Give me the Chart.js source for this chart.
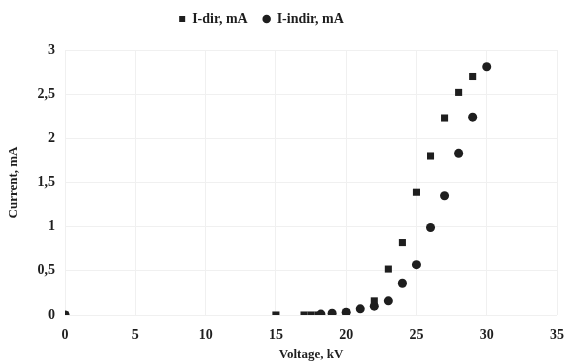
<!DOCTYPE html>
<html>
<head>
<meta charset="utf-8">
<script src="https://cdn.jsdelivr.net/npm/chart.js@4"></script>
<style>
  html, body { margin: 0; padding: 0; background: #fff; }
  #wrap { width: 565px; height: 363px; }
</style>
</head>
<body>
<div id="wrap"><canvas id="chart" width="565" height="363"></canvas></div>
<script>
/* data */
const dirVoltage = [0, 15, 17, 17.5, 18, 20, 22, 23, 24, 25, 26, 27, 28, 29];
const dirCurrent = [0, 0, 0, 0, 0, 0.03, 0.16, 0.52, 0.82, 1.39, 1.8, 2.23, 2.52, 2.7];
const indirVoltage = [0, 18.2, 19, 20, 21, 22, 23, 24, 25, 26, 27, 28, 29, 30];
const indirCurrent = [0, 0.01, 0.02, 0.03, 0.07, 0.1, 0.16, 0.36, 0.57, 0.99, 1.35, 1.83, 2.24, 2.81];
const seriesNames = ["I-dir, mA", "I-indir, mA"];
const xTicks = [0, 5, 10, 15, 20, 25, 30, 35];
const yTicks = [0, 0.5, 1, 1.5, 2, 2.5, 3];

const INK = "#1e1e1e";
const FONT = "'Liberation Serif', 'Times New Roman', serif";

const toPoints = (xs, ys) => xs.map((x, i) => ({ x, y: ys[i] }));

// legend: extra room underneath, and sits a bit left of centre like the original
const legendTweak = {
  id: "legendTweak",
  beforeInit(chart) {
    const fit = chart.legend.fit;
    chart.legend.fit = function () {
      fit.bind(chart.legend)();
      this.height += 14;
    };
  },
  afterLayout(chart) {
    chart.legend.left -= 20;
    chart.legend.right -= 20;
  }
};

new Chart(document.getElementById("chart"), {
  type: "scatter",
  data: {
    datasets: [
      {
        label: seriesNames[0],
        data: toPoints(dirVoltage, dirCurrent),
        pointStyle: "rect",
        pointRadius: 5,
        backgroundColor: INK,
        borderColor: INK,
        borderWidth: 0
      },
      {
        label: seriesNames[1],
        data: toPoints(indirVoltage, indirCurrent),
        pointStyle: "circle",
        pointRadius: 4.5,
        backgroundColor: INK,
        borderColor: INK,
        borderWidth: 0
      }
    ]
  },
  options: {
    responsive: false,
    animation: false,
    devicePixelRatio: 1,
    layout: { padding: { left: 6, right: 8, top: -4, bottom: 0 } },
    plugins: {
      legend: {
        display: true,
        position: "top",
        labels: {
          usePointStyle: true,
          boxWidth: 6,
          boxHeight: 6,
          padding: 16,
          color: INK,
          font: { family: FONT, size: 14, weight: "bold" }
        }
      },
      tooltip: { enabled: false }
    },
    scales: {
      x: {
        type: "linear",
        min: 0,
        max: 35,
        afterBuildTicks: axis => { axis.ticks = xTicks.map(v => ({ value: v })); },
        afterFit: axis => { axis.paddingRight = 0; },
        grid: { color: "#f0f0f0", drawTicks: false },
        border: { display: false },
        ticks: {
          color: INK,
          padding: 13,
          font: { family: FONT, size: 14, weight: "bold", lineHeight: 1 }
        },
        title: {
          display: true,
          text: "Voltage, kV",
          color: INK,
          padding: { top: -7, bottom: 2 },
          font: { family: FONT, size: 13, weight: "bold", lineHeight: 1 }
        }
      },
      y: {
        type: "linear",
        min: 0,
        max: 3,
        afterBuildTicks: axis => { axis.ticks = yTicks.map(v => ({ value: v })); },
        grid: { color: "#f0f0f0", drawTicks: false },
        border: { display: false },
        ticks: {
          color: INK,
          padding: 10,
          font: { family: FONT, size: 14, weight: "bold" },
          callback: v => String(v).replace(".", ",")
        },
        title: {
          display: true,
          text: "Current, mA",
          color: INK,
          padding: { top: 0, bottom: 6 },
          font: { family: FONT, size: 13, weight: "bold" }
        }
      }
    }
  },
  plugins: [legendTweak]
});
</script>
</body>
</html>
